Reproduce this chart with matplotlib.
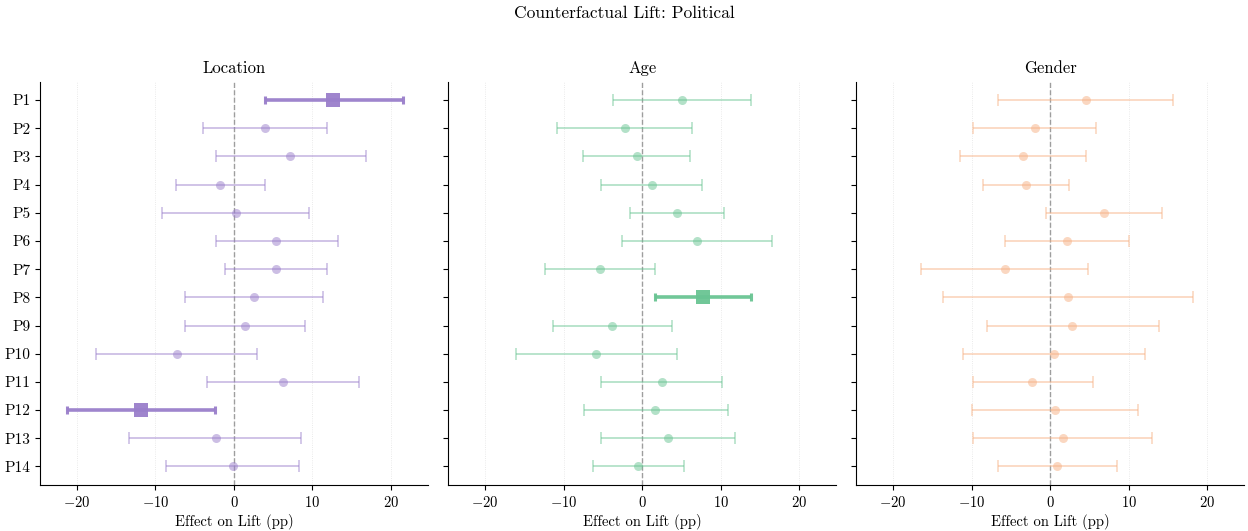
#!/usr/bin/env python3
"""Counterfactual lift forest plot: Political."""
import matplotlib

matplotlib.use("Agg")
import matplotlib.pyplot as plt
import numpy as np

participants = [f"P{i}" for i in range(1, 15)]
panels = ["Location", "Age", "Gender"]

loc_mean = [12.6, 4.0, 7.2, -1.8, 0.2, 5.4, 5.3, 2.6, 1.4, -7.3, 6.3, -11.8, -2.3, -0.1]
loc_low = [3.9, -3.9, -2.3, -7.4, -9.2, -2.3, -1.1, -6.2, -6.2, -17.5, -3.4, -21.2, -13.3, -8.6]
loc_high = [21.5, 11.8, 16.8, 3.9, 9.6, 13.2, 11.8, 11.3, 9.0, 2.9, 15.9, -2.4, 8.6, 8.3]
loc_sig = [True, False, False, False, False, False, False, False, False, False, False, True, False, False]

age_mean = [5.1, -2.2, -0.7, 1.2, 4.4, 7.0, -5.3, 7.8, -3.8, -5.9, 2.5, 1.7, 3.3, -0.5]
age_low = [-3.7, -10.8, -7.5, -5.2, -1.6, -2.5, -12.3, 1.7, -11.4, -16.1, -5.2, -7.4, -5.2, -6.3]
age_high = [13.9, 6.4, 6.1, 7.6, 10.4, 16.6, 1.6, 13.9, 3.8, 4.5, 10.2, 10.9, 11.8, 5.3]
age_sig = [False, False, False, False, False, False, False, True, False, False, False, False, False, False]

gen_mean = [4.5, -2.0, -3.5, -3.1, 6.8, 2.1, -5.8, 2.2, 2.8, 0.5, -2.3, 0.6, 1.6, 0.9]
gen_low = [-6.7, -9.8, -11.5, -8.6, -0.6, -5.8, -16.4, -13.7, -8.1, -11.1, -9.9, -10.0, -9.8, -6.7]
gen_high = [15.6, 5.8, 4.6, 2.4, 14.2, 10.0, 4.8, 18.2, 13.8, 12.0, 5.4, 11.2, 12.9, 8.5]
gen_sig = [False] * 14

colors = ["#9a7fcb", "#69c493", "#f7b184"]


def main() -> None:
    plt.rcParams.update(
        {
            "font.family": "serif",
            "font.serif": ["cmr10", "DejaVu Serif"],
            "mathtext.fontset": "cm",
            "axes.formatter.use_mathtext": True,
            "axes.unicode_minus": True,
            "axes.spines.top": False,
            "axes.spines.right": False,
            "axes.titlesize": 12,
            "axes.labelsize": 10.5,
            "xtick.labelsize": 10.5,
            "ytick.labelsize": 11,
        }
    )

    data = [
        (loc_mean, loc_low, loc_high, loc_sig),
        (age_mean, age_low, age_high, age_sig),
        (gen_mean, gen_low, gen_high, gen_sig),
    ]

    fig, axes = plt.subplots(1, 3, figsize=(12.48, 5.31), dpi=100, sharey=True)
    fig.subplots_adjust(left=0.032, right=0.997, top=0.846, bottom=0.087, wspace=0.052)
    fig.suptitle("Counterfactual Lift: Political", fontsize=12.5, y=0.99)

    y = np.arange(len(participants))
    for ax, name, (mean, low, high, sig), color in zip(axes, panels, data, colors):
        mean = np.array(mean)
        low = np.array(low)
        high = np.array(high)
        sig = np.array(sig)
        for i in y:
            err = [[mean[i] - low[i]], [high[i] - mean[i]]]
            if sig[i]:
                ax.errorbar(mean[i], i, xerr=err, fmt="none", ecolor=color,
                            elinewidth=2.6, capsize=3, capthick=2.2, alpha=0.95, zorder=3)
                ax.plot(mean[i], i, "s", color=color, ms=10, mew=0, alpha=0.95, zorder=4)
            else:
                ax.errorbar(mean[i], i, xerr=err, fmt="none", ecolor=color,
                            elinewidth=1.3, capsize=4, capthick=1.2, alpha=0.5, zorder=3)
                ax.plot(mean[i], i, "o", color=color, ms=6.5, mew=0, alpha=0.5, zorder=4)
        ax.axvline(0, color="#888888", linestyle="--", linewidth=1.0, alpha=0.8, zorder=1)
        ax.set_title(name)
        ax.set_xlabel("Effect on Lift (pp)", labelpad=3)
        ax.set_xlim(-24.7, 24.7)
        ax.set_xticks([-20, -10, 0, 10, 20])
        ax.grid(axis="x", linestyle=":", alpha=0.35, linewidth=0.6)
        ax.set_axisbelow(True)

    axes[0].set_yticks(y)
    axes[0].set_yticklabels(participants)
    axes[0].set_ylim(len(participants) - 1 + 0.65, -0.65)

    fig.savefig("out.png", dpi=100)
    plt.close(fig)


if __name__ == "__main__":
    main()
